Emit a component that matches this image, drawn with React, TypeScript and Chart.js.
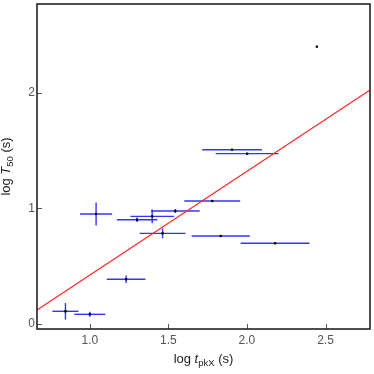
import React, { useEffect, useRef } from "react";
import { Chart, registerables } from "chart.js";

Chart.register(...registerables);

// Data (log t_pkX, log T50) with errors
const xVals = [0.845, 1.0, 1.231, 1.04, 1.301, 1.397, 1.544, 1.463, 1.779, 1.905, 2.001, 1.833, 2.179, 2.445];
const yVals = [0.11, 0.084, 0.387, 0.951, 0.902, 0.931, 0.977, 0.784, 1.064, 1.507, 1.473, 0.761, 0.698, 2.398];
const xErr = [0.083, 0.099, 0.123, 0.102, 0.129, 0.139, 0.155, 0.146, 0.178, 0.19, 0.2, 0.185, 0.219, 0];
const yErr = [0.072, 0.022, 0.032, 0.1, 0.02, 0.059, 0.018, 0.043, 0, 0, 0, 0, 0, 0];

// Fit line endpoints
const fitX = [0.664, 2.783];
const fitY = [0.121, 2.023];

// Axis ranges and ticks
const xRange = [0.664, 2.783];
const yRange = [-0.043, 2.767];
const xTicks = [1.0, 1.5, 2.0, 2.5];
const yTicks = [0, 1, 2];

const FONT = "'Liberation Sans', Arial, Helvetica, sans-serif";

function drawRich(ctx: CanvasRenderingContext2D, parts: { t: string; style: string }[], cx: number, cy: number) {
  const base = 13;
  const sub = 9.5;
  const fontFor = (s: string) =>
    s === "italic" ? `italic ${base}px ${FONT}` : s === "sub" ? `${sub}px ${FONT}` : `${base}px ${FONT}`;
  let total = 0;
  const widths = parts.map((p) => {
    ctx.font = fontFor(p.style);
    const w = ctx.measureText(p.t).width;
    total += w;
    return w;
  });
  let x = cx - total / 2;
  parts.forEach((p, i) => {
    ctx.font = fontFor(p.style);
    ctx.fillText(p.t, x, p.style === "sub" ? cy + 3 : cy);
    x += widths[i];
  });
}

const framePlugin = {
  id: "framePlugin",
  beforeDatasetsDraw(chart: any) {
    const ctx = chart.ctx as CanvasRenderingContext2D;
    const xs = chart.scales.x;
    const ys = chart.scales.y;
    const a = chart.chartArea;
    ctx.save();
    ctx.beginPath();
    ctx.rect(a.left, a.top, a.right - a.left, a.bottom - a.top);
    ctx.clip();
    ctx.strokeStyle = "rgba(30,30,255,0.9)";
    ctx.lineWidth = 1.4;
    for (let i = 0; i < xVals.length; i++) {
      const px = xs.getPixelForValue(xVals[i]);
      const py = ys.getPixelForValue(yVals[i]);
      if (xErr[i] > 0) {
        ctx.beginPath();
        ctx.moveTo(xs.getPixelForValue(xVals[i] - xErr[i]), py);
        ctx.lineTo(xs.getPixelForValue(xVals[i] + xErr[i]), py);
        ctx.stroke();
      }
      if (yErr[i] > 0) {
        ctx.beginPath();
        ctx.moveTo(px, ys.getPixelForValue(yVals[i] - yErr[i]));
        ctx.lineTo(px, ys.getPixelForValue(yVals[i] + yErr[i]));
        ctx.stroke();
      }
    }
    ctx.restore();
  },
  afterDraw(chart: any) {
    const ctx = chart.ctx as CanvasRenderingContext2D;
    const xs = chart.scales.x;
    const ys = chart.scales.y;
    const a = chart.chartArea;
    ctx.save();
    // inward ticks
    ctx.strokeStyle = "#555";
    ctx.lineWidth = 1;
    xTicks.forEach((v) => {
      const px = Math.round(xs.getPixelForValue(v)) + 0.5;
      ctx.beginPath();
      ctx.moveTo(px, a.bottom);
      ctx.lineTo(px, a.bottom - 5);
      ctx.stroke();
    });
    yTicks.forEach((v) => {
      const py = Math.round(ys.getPixelForValue(v)) + 0.5;
      ctx.beginPath();
      ctx.moveTo(a.left, py);
      ctx.lineTo(a.left + 5, py);
      ctx.stroke();
    });
    // frame
    ctx.strokeStyle = "#222";
    ctx.lineWidth = 1.6;
    ctx.strokeRect(a.left, a.top, a.right - a.left, a.bottom - a.top);
    // axis titles
    ctx.fillStyle = "#222";
    ctx.textBaseline = "alphabetic";
    ctx.textAlign = "left";
    drawRich(
      ctx,
      [
        { t: "log ", style: "n" },
        { t: "t", style: "italic" },
        { t: "pkX", style: "sub" },
        { t: " (s)", style: "n" },
      ],
      (a.left + a.right) / 2,
      363
    );
    ctx.translate(10, (a.top + a.bottom) / 2);
    ctx.rotate(-Math.PI / 2);
    drawRich(
      ctx,
      [
        { t: "log ", style: "n" },
        { t: "T", style: "italic" },
        { t: "50", style: "sub" },
        { t: " (s)", style: "n" },
      ],
      0,
      0
    );
    ctx.restore();
  },
};

export default function App() {
  const ref = useRef<HTMLCanvasElement | null>(null);
  useEffect(() => {
    document.body.style.margin = "0";
    const canvas = ref.current!;
    const chart = new Chart(canvas, {
      type: "scatter",
      data: {
        datasets: [
          {
            label: "bursts",
            data: xVals.map((x, i) => ({ x, y: yVals[i] })),
            pointStyle: "rect",
            pointRadius: 1.6,
            pointBackgroundColor: "#000",
            pointBorderColor: "#000",
            pointBorderWidth: 0,
            order: 0,
          },
          {
            label: "fit",
            type: "line",
            data: fitX.map((x, i) => ({ x, y: fitY[i] })),
            borderColor: "#ff2a2a",
            borderWidth: 1.2,
            pointRadius: 0,
            fill: false,
            order: 1,
          } as any,
        ],
      },
      options: {
        responsive: false,
        animation: false,
        layout: { padding: { top: 4, right: 4, left: 0, bottom: 0 } },
        plugins: { legend: { display: false }, tooltip: { enabled: false } },
        scales: {
          x: {
            type: "linear",
            min: xRange[0],
            max: xRange[1],
            grid: { display: false, drawTicks: false },
            border: { display: false },
            afterFit: (s: any) => {
              s.height = 45;
              s.paddingLeft = 0;
              s.paddingRight = 0;
            },
            afterBuildTicks: (s: any) => {
              s.ticks = xTicks.map((v) => ({ value: v }));
            },
            ticks: {
              padding: 4,
              color: "#555",
              font: { family: FONT, size: 12 },
              callback: (v: any) => Number(v).toFixed(1),
              maxRotation: 0,
            },
          },
          y: {
            type: "linear",
            min: yRange[0],
            max: yRange[1],
            grid: { display: false, drawTicks: false },
            border: { display: false },
            afterFit: (s: any) => {
              s.width = 37;
              s.paddingTop = 0;
              s.paddingBottom = 0;
            },
            afterBuildTicks: (s: any) => {
              s.ticks = yTicks.map((v) => ({ value: v }));
            },
            ticks: {
              padding: 2,
              color: "#555",
              font: { family: FONT, size: 12 },
              callback: (v: any) => String(v),
            },
          },
        },
      },
      plugins: [framePlugin],
    });
    return () => chart.destroy();
  }, []);
  return (
    <div style={{ width: 374, height: 374 }}>
      <canvas ref={ref} width={374} height={374} />
    </div>
  );
}
